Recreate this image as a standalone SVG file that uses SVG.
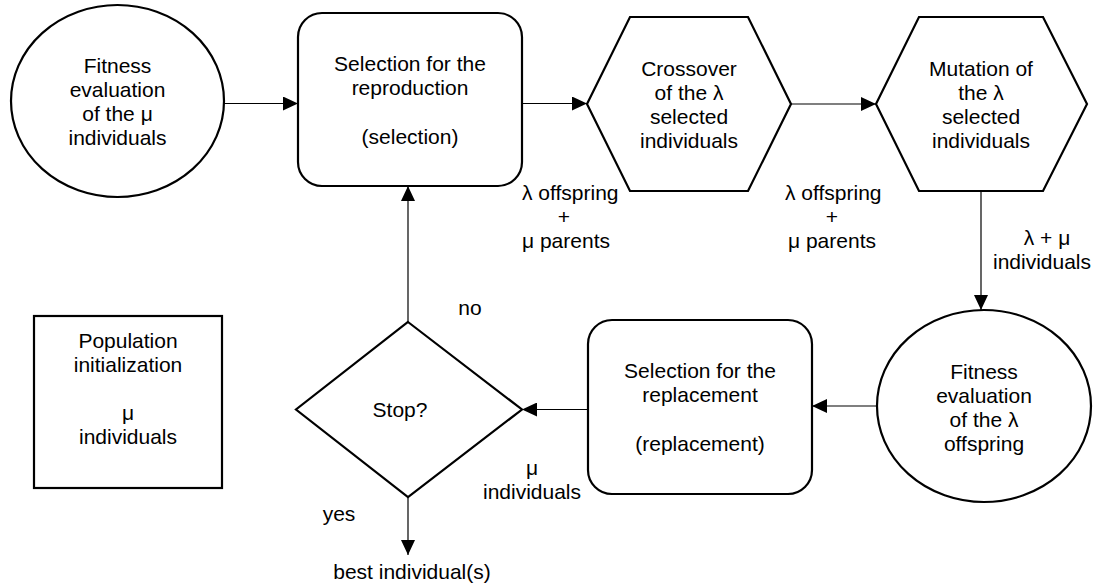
<svg xmlns="http://www.w3.org/2000/svg" width="1099" height="588" viewBox="0 0 1099 588">
<style>
.s{fill:#fff;stroke:#000;stroke-width:2.2}
.c{fill:none;stroke:#000;stroke-width:1.2}
text{font-family:"Liberation Sans",Arial,sans-serif;font-size:21px;fill:#000}
.m{text-anchor:middle}
</style>
<defs>
<marker id="ah" markerUnits="userSpaceOnUse" markerWidth="15" markerHeight="14" refX="15" refY="7" orient="auto">
<path d="M0,0 L15,7 L0,14 z" fill="#000"/>
</marker>
</defs>
<rect width="1099" height="588" fill="#fff"/>
<g id="connectors">
<line class="c" x1="224" y1="103.5" x2="298" y2="103.5" marker-end="url(#ah)"/>
<line class="c" x1="522" y1="103.5" x2="587" y2="103.5" marker-end="url(#ah)"/>
<line class="c" x1="791" y1="104" x2="876" y2="104" marker-end="url(#ah)"/>
<line class="c" x1="981" y1="191" x2="981" y2="310" marker-end="url(#ah)"/>
<line class="c" x1="877" y1="406" x2="812" y2="406" marker-end="url(#ah)"/>
<line class="c" x1="588" y1="409.5" x2="522" y2="409.5" marker-end="url(#ah)"/>
<line class="c" x1="408" y1="322" x2="408" y2="186" marker-end="url(#ah)"/>
<line class="c" x1="408" y1="497" x2="408" y2="555" marker-end="url(#ah)"/>
</g>
<g id="fitness-mu">
<ellipse class="s" cx="117.5" cy="101" rx="106.5" ry="96"/>
<text class="m" x="117.5" y="73">Fitness</text>
<text class="m" x="117.5" y="97">evaluation</text>
<text class="m" x="117.5" y="121">of the μ</text>
<text class="m" x="117.5" y="145">individuals</text>
</g>
<g id="selection-reproduction">
<rect class="s" x="298" y="13" width="224" height="173" rx="24"/>
<text class="m" x="410" y="71">Selection for the</text>
<text class="m" x="410" y="95">reproduction</text>
<text class="m" x="410" y="144">(selection)</text>
</g>
<g id="crossover">
<polygon class="s" points="587,104 630,17 748,17 791,104 748,191 630,191"/>
<text class="m" x="689" y="76">Crossover</text>
<text class="m" x="689" y="100">of the λ</text>
<text class="m" x="689" y="124">selected</text>
<text class="m" x="689" y="148">individuals</text>
</g>
<g id="mutation">
<polygon class="s" points="876,104 919,17 1043,17 1087,104 1043,191 919,191"/>
<text class="m" x="981" y="76">Mutation of</text>
<text class="m" x="981" y="100">the λ</text>
<text class="m" x="981" y="124">selected</text>
<text class="m" x="981" y="148">individuals</text>
</g>
<g id="fitness-lambda">
<ellipse class="s" cx="984" cy="406" rx="107" ry="96"/>
<text class="m" x="984" y="379">Fitness</text>
<text class="m" x="984" y="403">evaluation</text>
<text class="m" x="984" y="427">of the λ</text>
<text class="m" x="984" y="451">offspring</text>
</g>
<g id="selection-replacement">
<rect class="s" x="588" y="320" width="224" height="174" rx="24"/>
<text class="m" x="700" y="378">Selection for the</text>
<text class="m" x="700" y="402">replacement</text>
<text class="m" x="700" y="451">(replacement)</text>
</g>
<g id="stop">
<polygon class="s" points="408,322 522,409.5 408,497 296,409.5"/>
<text class="m" x="400" y="417">Stop?</text>
</g>
<g id="population">
<rect class="s" x="34" y="316" width="188" height="172"/>
<text class="m" x="128" y="348">Population</text>
<text class="m" x="128" y="372">initialization</text>
<text class="m" x="128" y="420">μ</text>
<text class="m" x="128" y="444">individuals</text>
</g>
<g id="labels">
<text x="522" y="200">λ offspring</text>
<text class="m" x="564" y="224">+</text>
<text x="522" y="248">μ parents</text>
<text x="785" y="200">λ offspring</text>
<text class="m" x="832" y="224">+</text>
<text x="788" y="248">μ parents</text>
<text class="m" x="1047" y="245">λ + μ</text>
<text class="m" x="1042" y="269">individuals</text>
<text class="m" x="470" y="315">no</text>
<text class="m" x="339" y="521">yes</text>
<text class="m" x="532" y="475">μ</text>
<text class="m" x="532" y="499">individuals</text>
<text class="m" x="412" y="579">best individual(s)</text>
</g>
</svg>
